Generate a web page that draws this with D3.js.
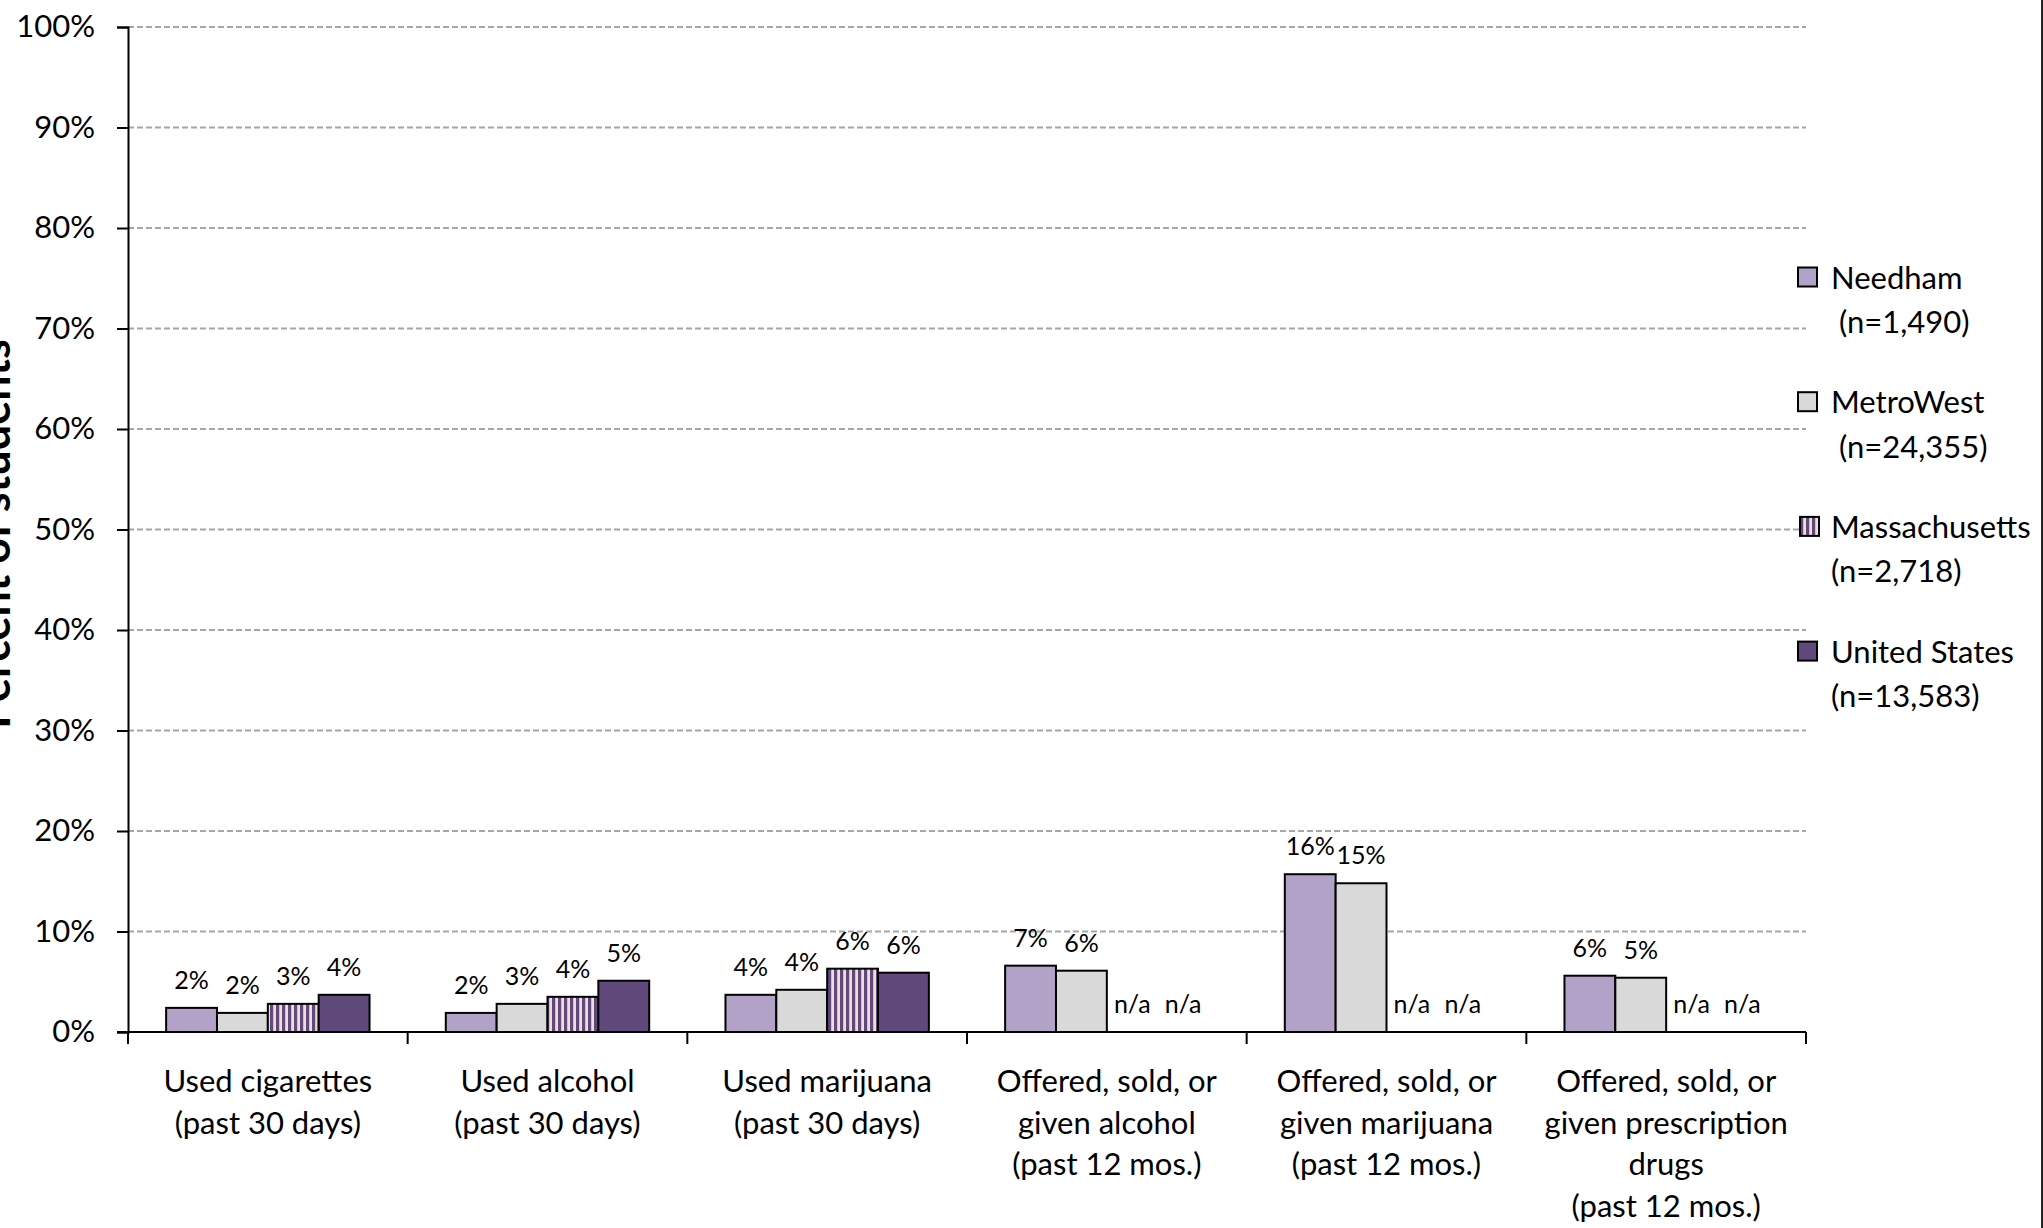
<!DOCTYPE html>
<html>
<head>
<meta charset="utf-8">
<script src="https://cdn.jsdelivr.net/npm/d3@7"></script>
<style>
  html, body { margin: 0; padding: 0; background: #fff; }
  svg { display: block; font-family: Lato, "Open Sans", sans-serif; }
</style>
</head>
<body>
<svg id="chart" width="2043" height="1228"></svg>
<script>
// ---- data ----
const categories = ["cig", "alc", "mj", "offAlc", "offMj", "offRx"];
const categoryLabels = [
  ["Used cigarettes", "(past 30 days)"],
  ["Used alcohol", "(past 30 days)"],
  ["Used marijuana", "(past 30 days)"],
  ["Offered, sold, or", "given alcohol", "(past 12 mos.)"],
  ["Offered, sold, or", "given marijuana", "(past 12 mos.)"],
  ["Offered, sold, or", "given prescription", "drugs", "(past 12 mos.)"]
];
const seriesNames = ["Needham", "MetroWest", "Massachusetts", "United States"];
const seriesSub = [" (n=1,490)", " (n=24,355)", "(n=2,718)", "(n=13,583)"];
const needham = [2.4, 1.9, 3.7, 6.6, 15.7, 5.6];
const metroWest = [1.9, 2.8, 4.2, 6.1, 14.8, 5.4];
const massachusetts = [2.8, 3.5, 6.3, null, null, null];
const unitedStates = [3.7, 5.1, 5.9, null, null, null];
const needhamLabels = ["2%", "2%", "4%", "7%", "16%", "6%"];
const metroWestLabels = ["2%", "3%", "4%", "6%", "15%", "5%"];
const massachusettsLabels = ["3%", "4%", "6%", "n/a", "n/a", "n/a"];
const unitedStatesLabels = ["4%", "5%", "6%", "n/a", "n/a", "n/a"];
const yTicks = [0, 10, 20, 30, 40, 50, 60, 70, 80, 90, 100];
const yTickLabels = ["0%", "10%", "20%", "30%", "40%", "50%", "60%", "70%", "80%", "90%", "100%"];

const seriesValues = [needham, metroWest, massachusetts, unitedStates];
const seriesLabels = [needhamLabels, metroWestLabels, massachusettsLabels, unitedStatesLabels];
const fills = ["#b3a2c7", "#d9d9d9", "url(#stripes)", "#604a7b"];

// ---- layout ----
const plotLeft = 128, plotRight = 1806, plotTop = 27, plotBottom = 1032;
const svg = d3.select("#chart");

const defs = svg.append("defs");
const pat = defs.append("pattern").attr("id", "stripes")
  .attr("patternUnits", "userSpaceOnUse").attr("width", 6).attr("height", 6);
pat.append("rect").attr("width", 6).attr("height", 6).attr("fill", "#f2dcdb");
pat.append("rect").attr("x", 0).attr("width", 3.2).attr("height", 6).attr("fill", "#604a7b");

const y = d3.scaleLinear().domain([0, 100]).range([plotBottom, plotTop]);
const x0 = d3.scaleBand().domain(categories).range([plotLeft, plotRight]).padding(0);
const bw = x0.bandwidth() / 5.5;
const x1 = d3.scaleBand().domain(seriesNames).range([0, 4 * bw]).padding(0);
const groupOffset = (x0.bandwidth() - 4 * bw) / 2;

// gridlines
svg.append("g").selectAll("line").data(yTicks.filter(d => d > 0)).join("line")
  .attr("x1", plotLeft).attr("x2", plotRight)
  .attr("y1", d => y(d)).attr("y2", d => y(d))
  .attr("stroke", "#a6a6a6").attr("stroke-width", 2)
  .attr("stroke-dasharray", "6,3");

// y axis
const yAxis = d3.axisLeft(y).tickValues(yTicks)
  .tickFormat((d, i) => yTickLabels[i]).tickSizeOuter(0).tickSize(11).tickPadding(22);
const gy = svg.append("g").attr("transform", `translate(${plotLeft},0)`).call(yAxis);
gy.select(".domain").attr("stroke", "#000").attr("stroke-width", 2);
gy.selectAll(".tick line").attr("stroke", "#000").attr("stroke-width", 2);
gy.selectAll(".tick text").attr("font-size", 31).attr("fill", "#000")
  .attr("font-family", "Lato, sans-serif");

// bars
const barData = [];
categories.forEach((c, ci) => {
  seriesNames.forEach((s, si) => {
    barData.push({ c, ci, s, si, v: seriesValues[si][ci], label: seriesLabels[si][ci] });
  });
});
const bx = d => x0(d.c) + groupOffset + x1(d.s);

svg.append("g").selectAll("rect").data(barData.filter(d => d.v != null)).join("rect")
  .attr("x", bx).attr("width", x1.bandwidth())
  .attr("y", d => y(d.v)).attr("height", d => y(0) - y(d.v))
  .attr("fill", d => fills[d.si]).attr("stroke", "#000").attr("stroke-width", 2);

// data labels
svg.append("g").selectAll("text").data(barData).join("text")
  .attr("x", d => bx(d) + x1.bandwidth() / 2)
  .attr("y", d => y(d.v == null ? 0 : d.v) - 19)
  .attr("text-anchor", "middle").attr("font-size", 25).attr("fill", "#000")
  .text(d => d.label);

// x axis
const gx = svg.append("g").attr("transform", `translate(0,${plotBottom})`);
gx.append("line").attr("x1", plotLeft - 11).attr("x2", plotRight).attr("y1", 0).attr("y2", 0)
  .attr("stroke", "#000").attr("stroke-width", 2);
const boundaries = categories.map(c => x0(c)).concat([plotRight]);
gx.selectAll("line.tk").data(boundaries).join("line").attr("class", "tk")
  .attr("x1", d => d).attr("x2", d => d).attr("y1", 0).attr("y2", 12)
  .attr("stroke", "#000").attr("stroke-width", 2);
categories.forEach((c, ci) => {
  const t = gx.append("text").attr("text-anchor", "middle").attr("font-size", 31).attr("fill", "#000");
  categoryLabels[ci].forEach((line, li) => {
    t.append("tspan").attr("x", x0(c) + x0.bandwidth() / 2).attr("y", 60 + li * 41.7).text(line);
  });
});

// y title (partially off-canvas as in reference)
svg.append("text").attr("transform", "translate(10,534) rotate(-90)")
  .attr("text-anchor", "middle").attr("font-size", 45).attr("font-weight", "bold")
  .attr("fill", "#000").text("Percent of students");

// legend
const lg = svg.append("g");
const rowY = d3.scaleLinear().domain([0, 1]).range([277.5, 402.2]);
seriesNames.forEach((s, i) => {
  const cy = rowY(i);
  lg.append("rect").attr("x", i === 2 ? 1800 : 1798).attr("y", cy - 10).attr("width", 19).attr("height", 19)
    .attr("fill", fills[i]).attr("stroke", "#000").attr("stroke-width", 2);
  lg.append("text").attr("x", 1831).attr("y", cy + 11).attr("font-size", 31).attr("fill", "#000").text(s);
  lg.append("text").attr("x", 1831).attr("y", cy + 55.5).attr("font-size", 31).attr("fill", "#000")
    .style("white-space", "pre").text(seriesSub[i]);
});

// right frame edge
svg.append("line").attr("x1", 2042).attr("x2", 2042).attr("y1", 0).attr("y2", 1228)
  .attr("stroke", "#262626").attr("stroke-width", 2);
</script>
</body>
</html>
